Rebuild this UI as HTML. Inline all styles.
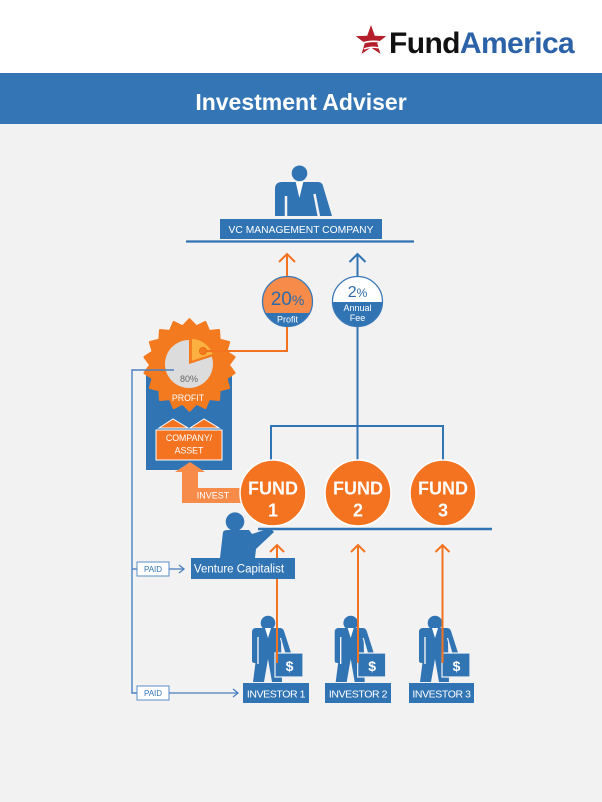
<!DOCTYPE html>
<html><head><meta charset="utf-8"><style>
html,body{margin:0;padding:0;background:#f2f2f2;}
svg{display:block;}
text{font-family:"Liberation Sans",Arial,sans-serif;}
</style></head><body>
<svg width="602" height="802" viewBox="0 0 602 802" xmlns="http://www.w3.org/2000/svg">
<defs>
<clipPath id="c20"><circle cx="287.5" cy="301.5" r="25"/></clipPath>
<clipPath id="c2"><circle cx="357.5" cy="301.5" r="25"/></clipPath>
</defs>
<rect width="602" height="802" fill="#f2f2f2"/>
<rect width="602" height="73" fill="#ffffff"/>
<!-- logo -->
<polygon points="371,25 374.8,35.7 386.2,36.1 377.2,43 380.4,53.9 371,47.5 361.6,53.9 364.8,43 355.8,36.1 367.2,35.7" fill="#b51f2c"/>
<path d="M360,44 Q370,40 381,42" stroke="#fff" stroke-width="1.6" fill="none"/>
<path d="M364,49 Q372,46 379,48" stroke="#fff" stroke-width="1.4" fill="none"/>
<text x="389" y="53" font-size="30" font-weight="bold" letter-spacing="-0.6"><tspan fill="#111">Fund</tspan><tspan fill="#2b62a8">America</tspan></text>
<!-- header -->
<rect y="73" width="602" height="51" fill="#3476b5"/>
<text x="301" y="110" font-size="23" font-weight="bold" fill="#fff" text-anchor="middle">Investment Adviser</text>

<!-- top person -->
<circle cx="299.5" cy="173.3" r="7.8" fill="#3174b4"/>
<path d="M275,216 L275,189 Q275,182 282,182 L318,182 Q322,182 323,186 L332,216 Z" fill="#3174b4"/>
<line x1="286" y1="196" x2="286" y2="217" stroke="#f2f2f2" stroke-width="2.5"/>
<line x1="314.5" y1="194" x2="319" y2="217" stroke="#f2f2f2" stroke-width="2.5"/>
<polygon points="295.7,182 303.3,182 299.4,198" fill="#fff"/>
<rect x="220" y="219" width="162" height="20" fill="#3174b4"/>
<text x="301" y="233" font-size="10.3" fill="#fff" text-anchor="middle">VC MANAGEMENT COMPANY</text>
<line x1="186" y1="241.5" x2="414" y2="241.5" stroke="#3174b4" stroke-width="2.2"/>

<!-- top arrows -->
<line x1="287" y1="254" x2="287" y2="277" stroke="#f37321" stroke-width="2"/>
<polyline points="279,262 287,254 295,262" fill="none" stroke="#f37321" stroke-width="2"/>
<line x1="357.5" y1="254" x2="357.5" y2="277" stroke="#3174b4" stroke-width="2"/>
<polyline points="349.5,262 357.5,254 365.5,262" fill="none" stroke="#3174b4" stroke-width="2"/>

<!-- 20% circle -->
<g clip-path="url(#c20)">
<rect x="260" y="275" width="60" height="60" fill="#f68b4a"/>
<rect x="260" y="313" width="60" height="30" fill="#3174b4"/>
</g>
<circle cx="287.5" cy="301.5" r="25" fill="none" stroke="#3a78b8" stroke-width="1.3"/>
<text x="287.5" y="305" font-size="19" fill="#2f6aa8" text-anchor="middle">20<tspan font-size="14">%</tspan></text>
<text x="287.5" y="322.5" font-size="9" fill="#fff" text-anchor="middle">Profit</text>

<!-- 2% circle -->
<g clip-path="url(#c2)">
<rect x="330" y="275" width="60" height="60" fill="#ffffff"/>
<rect x="330" y="302" width="60" height="30" fill="#3174b4"/>
</g>
<circle cx="357.5" cy="301.5" r="25" fill="none" stroke="#3a78b8" stroke-width="1.3"/>
<text x="357.5" y="297" font-size="16" fill="#2f6aa8" text-anchor="middle">2<tspan font-size="12">%</tspan></text>
<text x="357.5" y="311" font-size="9" fill="#fff" text-anchor="middle">Annual</text>
<text x="357.5" y="321" font-size="9" fill="#fff" text-anchor="middle">Fee</text>

<!-- blue box + gear -->
<rect x="146" y="375" width="86" height="95" fill="#3174b4"/>
<polygon fill="#f47a20" stroke="#f47a20" stroke-width="2.5" stroke-linejoin="round"
points="189.5,319.5 196.3,326.6 205.2,322.2 209,331.2 218.8,330.2 219.4,339.9 228.9,342.2 226.1,351.7 234.3,357.1 228.5,365 234.3,372.9 226.1,378.3 228.9,387.8 219.4,390.1 218.8,399.8 209,398.8 205.2,407.8 196.3,403.4 189.5,410.5 182.7,403.4 173.8,407.8 170,398.8 160.2,399.8 159.6,390.1 150.1,387.8 152.9,378.3 144.7,372.9 150.5,365 144.7,357.1 152.9,351.7 150.1,342.2 159.6,339.9 160.2,330.2 170,331.2 173.8,322.2 182.7,326.6"/>
<path d="M189,364 L211.8,356.6 A24,24 0 1 1 189,340 Z" fill="#dcdcdc"/>
<path d="M191,362 L191,338 A24,24 0 0 1 213.8,354.6 Z" fill="#fbb040" stroke="#f47a20" stroke-width="1.8"/>
<text x="189" y="382" font-size="9" fill="#666" text-anchor="middle">80%</text>
<text x="188" y="401" font-size="8.8" fill="#fff" text-anchor="middle">PROFIT</text>
<!-- profit line -->
<polyline points="203,351 287,351 287,327" fill="none" stroke="#f37321" stroke-width="2"/>
<circle cx="203" cy="351" r="3.6" fill="#f47a20" stroke="#e56a10" stroke-width="0.8"/>

<!-- company/asset -->
<polygon points="159,428 173,419 188,428" fill="#f37321" stroke="#fff" stroke-width="1"/>
<polygon points="190,428 204,419 219,428" fill="#f37321" stroke="#fff" stroke-width="1"/>
<rect x="156" y="430" width="66" height="30" fill="#f37321" stroke="#fff" stroke-width="1"/>
<text x="189" y="441" font-size="8.8" fill="#fff" text-anchor="middle">COMPANY/</text>
<text x="189" y="453.3" font-size="8.8" fill="#fff" text-anchor="middle">ASSET</text>

<!-- invest arrow -->
<polygon points="175,472 190,462 205,472 198,472 198,488 242,488 242,503 182,503 182,472" fill="#f68b4a"/>
<text x="213" y="498.5" font-size="9" fill="#fff" text-anchor="middle">INVEST</text>

<!-- left connector -->
<polyline points="174,370 132,370 132,693 137,693" fill="none" stroke="#4a80c0" stroke-width="1.4"/>
<line x1="132" y1="569" x2="137" y2="569" stroke="#4a80c0" stroke-width="1.4"/>

<!-- fund tree -->
<polyline points="271,461 271,426 443,426 443,461" fill="none" stroke="#3174b4" stroke-width="2"/>
<line x1="357.5" y1="327" x2="357.5" y2="461" stroke="#3174b4" stroke-width="2"/>

<!-- funds -->
<g fill="#f37321" stroke="#fff" stroke-width="1.5">
<circle cx="273" cy="493" r="33"/>
<circle cx="358" cy="493" r="33"/>
<circle cx="443" cy="493" r="33"/>
</g>
<g font-size="18" font-weight="bold" fill="#fff" text-anchor="middle">
<text x="273" y="494.5">FUND</text><text x="273" y="516.5">1</text>
<text x="358" y="494.5">FUND</text><text x="358" y="516.5">2</text>
<text x="443" y="494.5">FUND</text><text x="443" y="516.5">3</text>
</g>

<!-- fund line -->
<line x1="258" y1="529" x2="492" y2="529" stroke="#3174b4" stroke-width="2.5"/>

<!-- VC person -->
<circle cx="235" cy="521.7" r="9.3" fill="#3174b4"/>
<path d="M220,558 L223,532 Q224,530 228,530 L249,530 L252,534 L270,528 L274,532 L256,549 L255,558 Z" fill="#3174b4"/>

<!-- PAID boxes -->
<rect x="137" y="562" width="32" height="14" fill="#fff" stroke="#5a8cc8" stroke-width="1"/>
<text x="153" y="572" font-size="8" fill="#3174b4" text-anchor="middle">PAID</text>
<line x1="169" y1="569" x2="184" y2="569" stroke="#4a80c0" stroke-width="1.3"/>
<polyline points="179,565 184,569 179,573" fill="none" stroke="#4a80c0" stroke-width="1.3"/>
<rect x="137" y="686" width="32" height="14" fill="#fff" stroke="#5a8cc8" stroke-width="1"/>
<text x="153" y="696" font-size="8" fill="#3174b4" text-anchor="middle">PAID</text>
<line x1="169" y1="693" x2="238" y2="693" stroke="#4a80c0" stroke-width="1.3"/>
<polyline points="233,689 238,693 233,697" fill="none" stroke="#4a80c0" stroke-width="1.3"/>

<!-- investors -->
<g transform="translate(268,623)">
<circle cx="0" cy="0" r="7.3" fill="#3174b4"/>
<path d="M-16,9 Q-16,5 -12,5 L12,5 Q15,5 16,8 L25,36 L20,38 L13,19 L14,59 L4,59 L0,36 L-4,59 L-15,59 L-10,20 L-10,38 Q-10,40 -13,40 Q-16,40 -16,38 Z" fill="#3174b4"/>
<line x1="-10" y1="14" x2="-10" y2="41" stroke="#f2f2f2" stroke-width="1.4"/>
<line x1="12.5" y1="15" x2="19" y2="38" stroke="#f2f2f2" stroke-width="1.2"/>
<polygon points="-3,5 3,5 0,15" fill="#fff"/>
<rect x="7" y="30" width="28" height="24" fill="#3174b4" stroke="#f2f2f2" stroke-width="1.2"/>
<text x="21.5" y="48" font-size="14" font-weight="bold" fill="#fff" text-anchor="middle">$</text>
</g>
<g transform="translate(350.7,623)">
<circle cx="0" cy="0" r="7.3" fill="#3174b4"/>
<path d="M-16,9 Q-16,5 -12,5 L12,5 Q15,5 16,8 L25,36 L20,38 L13,19 L14,59 L4,59 L0,36 L-4,59 L-15,59 L-10,20 L-10,38 Q-10,40 -13,40 Q-16,40 -16,38 Z" fill="#3174b4"/>
<line x1="-10" y1="14" x2="-10" y2="41" stroke="#f2f2f2" stroke-width="1.4"/>
<line x1="12.5" y1="15" x2="19" y2="38" stroke="#f2f2f2" stroke-width="1.2"/>
<polygon points="-3,5 3,5 0,15" fill="#fff"/>
<rect x="7" y="30" width="28" height="24" fill="#3174b4" stroke="#f2f2f2" stroke-width="1.2"/>
<text x="21.5" y="48" font-size="14" font-weight="bold" fill="#fff" text-anchor="middle">$</text>
</g>
<g transform="translate(435,623)">
<circle cx="0" cy="0" r="7.3" fill="#3174b4"/>
<path d="M-16,9 Q-16,5 -12,5 L12,5 Q15,5 16,8 L25,36 L20,38 L13,19 L14,59 L4,59 L0,36 L-4,59 L-15,59 L-10,20 L-10,38 Q-10,40 -13,40 Q-16,40 -16,38 Z" fill="#3174b4"/>
<line x1="-10" y1="14" x2="-10" y2="41" stroke="#f2f2f2" stroke-width="1.4"/>
<line x1="12.5" y1="15" x2="19" y2="38" stroke="#f2f2f2" stroke-width="1.2"/>
<polygon points="-3,5 3,5 0,15" fill="#fff"/>
<rect x="7" y="30" width="28" height="24" fill="#3174b4" stroke="#f2f2f2" stroke-width="1.2"/>
<text x="21.5" y="48" font-size="14" font-weight="bold" fill="#fff" text-anchor="middle">$</text>
</g>

<!-- investor labels -->
<rect x="243" y="683" width="66" height="20" fill="#3174b4"/>
<rect x="325" y="683" width="66" height="20" fill="#3174b4"/>
<rect x="409" y="683" width="65" height="20" fill="#3174b4"/>
<g font-size="10.5" fill="#fff" text-anchor="middle" letter-spacing="-0.4">
<text x="276" y="697.5">INVESTOR 1</text>
<text x="358" y="697.5">INVESTOR 2</text>
<text x="441.5" y="697.5">INVESTOR 3</text>
</g>

<!-- orange investment arrows -->
<g stroke="#f37321" stroke-width="2" fill="none">
<line x1="277" y1="546" x2="277" y2="663"/>
<polyline points="270,552 277,545 284,552"/>
<line x1="358" y1="546" x2="358" y2="663"/>
<polyline points="351,552 358,545 365,552"/>
<line x1="442.5" y1="546" x2="442.5" y2="663"/>
<polyline points="435.5,552 442.5,545 449.5,552"/>
</g>

<!-- Venture Capitalist label (on top of orange line) -->
<rect x="191" y="558" width="104" height="21" fill="#3174b4"/>
<text x="239" y="572.5" font-size="11.5" fill="#fff" text-anchor="middle">Venture Capitalist</text>
</svg>
</body></html>
